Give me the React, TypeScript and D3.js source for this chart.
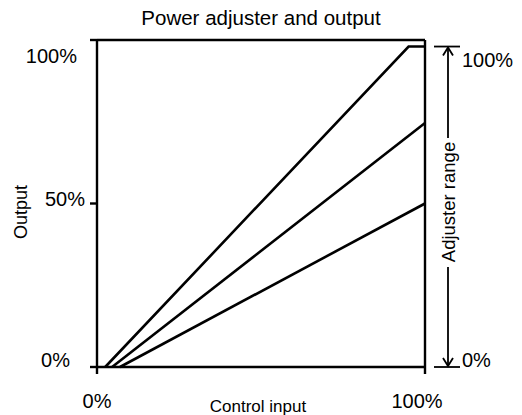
import React, { useEffect, useRef } from 'react'
import * as d3 from 'd3'

// control input (%) and output (%) for each adjuster setting
const settings = ['high', 'mid', 'low']
const inputHigh = [2.5, 95, 100]
const outputHigh = [0, 98, 98]
const inputMid = [4.6, 100]
const outputMid = [0, 74.6]
const inputLow = [7, 100]
const outputLow = [0, 50]

const yTicks = [0, 50, 100]
const yTickLabels = ['0%', '50%', '100%']
const xTicks = [0, 100]
const xTickLabels = ['0%', '100%']
const rangeTicks = [0, 98]
const rangeLabels = ['0%', '100%']

const title = 'Power adjuster and output'
const xTitle = 'Control input'
const yTitle = 'Output'
const rangeTitle = 'Adjuster range'

const App: React.FC = () => {
  const svgRef = useRef<SVGSVGElement>(null)

  useEffect(() => {
    if (!svgRef.current) return
    const svg = d3.select(svgRef.current)
    svg.selectAll('*').remove()

    const width = 522
    const height = 415
    const font = '"Liberation Sans", Arial, sans-serif'
    svg.attr('width', width).attr('height', height)

    const x = d3.scaleLinear().domain([0, 100]).range([97, 425])
    const y = d3.scaleLinear().domain([0, 100]).range([367, 40])

    const series = [
      { name: settings[0], xs: inputHigh, ys: outputHigh },
      { name: settings[1], xs: inputMid, ys: outputMid },
      { name: settings[2], xs: inputLow, ys: outputLow }
    ]

    // title
    svg.append('text')
      .attr('x', (x(0) + x(100)) / 2)
      .attr('y', 25)
      .attr('text-anchor', 'middle')
      .style('font-family', font)
      .style('font-size', '20.5px')
      .text(title)

    // frame
    const frame = svg.append('g')
      .attr('stroke', '#000')
      .attr('stroke-width', 2.4)
      .attr('fill', 'none')
    frame.append('line').attr('x1', x(0)).attr('x2', x(0)).attr('y1', y(100)).attr('y2', y(0) + 7)
    frame.append('line').attr('x1', x(100)).attr('x2', x(100)).attr('y1', y(100)).attr('y2', y(0) + 7)
    frame.append('line').attr('x1', x(0)).attr('x2', x(100)).attr('y1', y(100)).attr('y2', y(100))
    frame.append('line').attr('x1', x(0)).attr('x2', x(100)).attr('y1', y(0)).attr('y2', y(0))

    // y ticks
    yTicks.forEach(t => {
      frame.append('line')
        .attr('x1', x(0) - 7).attr('x2', x(0))
        .attr('y1', y(t)).attr('y2', y(t))
    })
    const yLabelEnd = [70, 85, 77]
    const yLabelBase = [0, 2, 23]
    yTicks.forEach((t, i) => {
      svg.append('text')
        .attr('x', yLabelEnd[i])
        .attr('y', y(t) + yLabelBase[i])
        .attr('text-anchor', 'end')
        .style('font-family', font)
        .style('font-size', '20px')
        .text(yTickLabels[i])
    })

    // x tick labels
    const xLabelX = [97, 417]
    xTicks.forEach((t, i) => {
      svg.append('text')
        .attr('x', i === 0 ? x(t) : xLabelX[i])
        .attr('y', 408)
        .attr('text-anchor', 'middle')
        .style('font-family', font)
        .style('font-size', '20px')
        .text(xTickLabels[i])
    })

    svg.append('text')
      .attr('x', 258)
      .attr('y', 412)
      .attr('text-anchor', 'middle')
      .style('font-family', font)
      .style('font-size', '17px')
      .text(xTitle)

    svg.append('text')
      .attr('transform', `translate(27, 212) rotate(-90)`)
      .attr('text-anchor', 'middle')
      .style('font-family', font)
      .style('font-size', '18px')
      .text(yTitle)

    // lines
    const line = d3.line<[number, number]>()
      .x(d => x(d[0]))
      .y(d => y(d[1]))
    series.forEach(s => {
      const pts = s.xs.map((v, i) => [v, s.ys[i]] as [number, number])
      svg.append('path')
        .datum(pts)
        .attr('d', line)
        .attr('fill', 'none')
        .attr('stroke', '#000')
        .attr('stroke-width', 2.6)
        .attr('stroke-linejoin', 'miter')
    })

    // adjuster range annotation
    const ax = 448
    const ann = svg.append('g')
      .attr('stroke', '#000')
      .attr('stroke-width', 1.8)
      .attr('fill', 'none')
    rangeTicks.forEach(t => {
      ann.append('line').attr('x1', 434).attr('x2', 460).attr('y1', y(t)).attr('y2', y(t))
    })
    const top = y(rangeTicks[1])
    const bottom = y(rangeTicks[0])
    ann.append('line').attr('x1', ax).attr('x2', ax).attr('y1', top + 1).attr('y2', 138)
    ann.append('line').attr('x1', ax).attr('x2', ax).attr('y1', 267).attr('y2', bottom - 1)
    ann.append('path').attr('d', `M${ax - 5},${top + 9}L${ax},${top + 1}L${ax + 5},${top + 9}`)
    ann.append('path').attr('d', `M${ax - 5},${bottom - 9}L${ax},${bottom - 1}L${ax + 5},${bottom - 9}`)

    svg.append('text')
      .attr('transform', `translate(455, 202) rotate(-90)`)
      .attr('text-anchor', 'middle')
      .style('font-family', font)
      .style('font-size', '18.5px')
      .text(rangeTitle)

    const rangeBase = [367, 67]
    rangeTicks.forEach((t, i) => {
      svg.append('text')
        .attr('x', 462)
        .attr('y', rangeBase[i])
        .style('font-family', font)
        .style('font-size', '20px')
        .text(rangeLabels[i])
    })
  }, [])

  return (
    <svg ref={svgRef} style={{ position: 'absolute', left: 0, top: 0, background: '#fff' }}></svg>
  )
}

export default App
